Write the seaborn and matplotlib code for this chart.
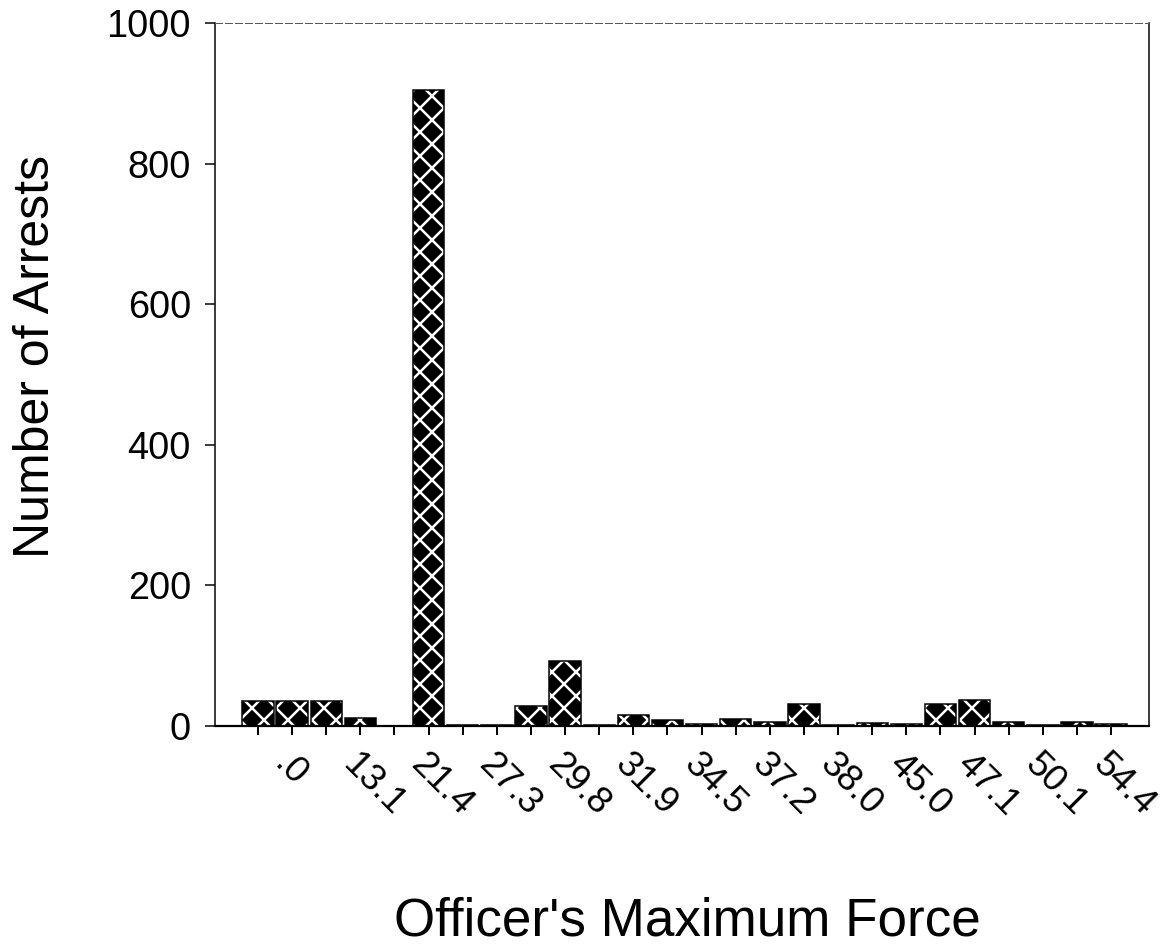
import matplotlib
matplotlib.use("Agg")
import matplotlib.pyplot as plt
from matplotlib.transforms import ScaledTranslation
import seaborn as sns
import pandas as pd

# ---- data ----
tick_labels = [".0", "13.1", "21.4", "27.3", "29.8", "31.9", "34.5",
               "37.2", "38.0", "45.0", "47.1", "50.1", "54.4"]
counts = [36, 35, 35, 11, 0, 905, 1, 1, 28, 93, 2, 15, 9,
          3, 10, 5, 31, 1, 4, 3, 32, 37, 6, 2, 6, 3]
category = list(range(len(counts)))
y_ticks = [0, 200, 400, 600, 800, 1000]

df = pd.DataFrame({"cat": category, "n": counts})

sns.set_style("white")
plt.rcParams["font.family"] = ["Liberation Sans", "DejaVu Sans"]
plt.rcParams["hatch.linewidth"] = 2.5
for k in ["text.color", "axes.labelcolor", "xtick.color", "ytick.color"]:
    plt.rcParams[k] = "black"

DPI = 72
fig = plt.figure(figsize=(1168 / DPI, 948 / DPI), dpi=DPI)
ax = fig.add_axes([215 / 1168, 1 - 726 / 948, 934 / 1168, 703 / 948])

# hatched fill (white cross-hatch on black)
sns.barplot(data=df, x="cat", y="n", color="black", width=0.92,
            errorbar=None, saturation=1, edgecolor="white", linewidth=0,
            hatch="x", ax=ax)
# black outline
sns.barplot(data=df, x="cat", y="n", fill=False, color="black", width=0.92,
            errorbar=None, linewidth=1.5, ax=ax)

ax.set_xlim(-1.26, 26.11)
ax.set_ylim(0, 1000)
ax.set_yticks(y_ticks)
ax.set_yticklabels([str(v) for v in y_ticks], fontsize=38)

labels_full = []
for i in range(len(counts)):
    labels_full.append(tick_labels[i // 2] if i % 2 == 0 else "")
ax.set_xticks(category)
ax.set_xticklabels(labels_full, fontsize=37, rotation=-45,
                   ha="left", va="top", rotation_mode="default")

ax.tick_params(axis="x", direction="out", length=9, width=2, pad=12,
               bottom=True)
ax.tick_params(axis="y", direction="out", length=10, width=1.5, pad=14,
               left=True)

offset = ScaledTranslation(9 / DPI, 0, fig.dpi_scale_trans)
for t in ax.xaxis.get_major_ticks():
    t.label1.set_transform(t.label1.get_transform() + offset)

for side in ["left", "right", "top", "bottom"]:
    ax.spines[side].set_visible(True)
    ax.spines[side].set_color("black")
ax.spines["left"].set_linewidth(1.5)
ax.spines["right"].set_linewidth(1.5)
ax.spines["top"].set_linewidth(1.0)
ax.spines["top"].set_color("0.35")
ax.spines["top"].set_linestyle((0, (7, 3)))
ax.spines["bottom"].set_linewidth(2.2)

ax.set_xlabel("Officer's Maximum Force", fontsize=53)
ax.set_ylabel("Number of Arrests", fontsize=50)
ax.xaxis.set_label_coords(0.506, -0.242)
ax.yaxis.set_label_coords(-0.167, 0.525)

fig.savefig("out.png", dpi=DPI, facecolor="white")
